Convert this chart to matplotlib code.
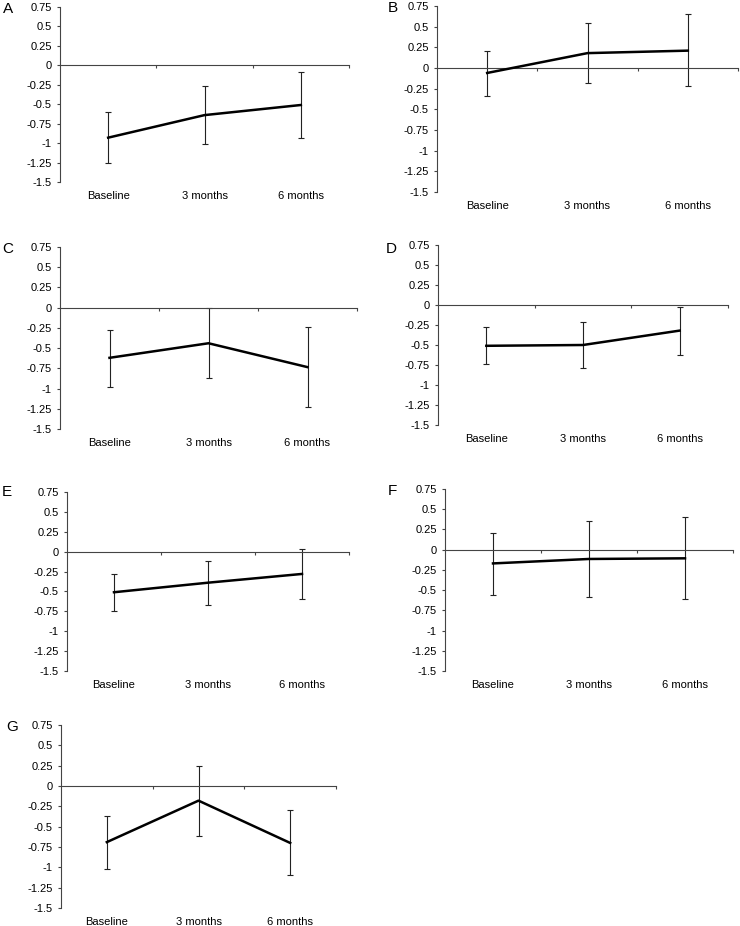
import matplotlib.pyplot as plt
import numpy as np

plt.rcParams['font.family'] = ['Liberation Sans', 'DejaVu Sans']

# 数据
timepoints = ['Baseline', '3 months', '6 months']
panel_names = ['A', 'B', 'C', 'D', 'E', 'F', 'G']

mean_A = [-0.93, -0.64, -0.51]
low_A = [-1.26, -1.01, -0.94]
high_A = [-0.60, -0.27, -0.08]

mean_B = [-0.06, 0.18, 0.21]
low_B = [-0.335, -0.185, -0.22]
high_B = [0.20, 0.55, 0.65]

mean_C = [-0.62, -0.44, -0.735]
low_C = [-0.98, -0.87, -1.23]
high_C = [-0.27, -0.01, -0.24]

mean_D = [-0.51, -0.50, -0.32]
low_D = [-0.74, -0.79, -0.62]
high_D = [-0.28, -0.21, -0.02]

mean_E = [-0.51, -0.39, -0.28]
low_E = [-0.74, -0.67, -0.60]
high_E = [-0.285, -0.115, 0.03]

mean_F = [-0.17, -0.115, -0.107]
low_F = [-0.56, -0.585, -0.61]
high_F = [0.21, 0.35, 0.40]

mean_G = [-0.69, -0.18, -0.70]
low_G = [-1.02, -0.615, -1.10]
high_G = [-0.365, 0.25, -0.30]

y_ticks = [0.75, 0.5, 0.25, 0, -0.25, -0.5, -0.75, -1, -1.25, -1.5]
y_tick_labels = ['0.75', '0.5', '0.25', '0', '-0.25', '-0.5', '-0.75', '-1', '-1.25', '-1.5']

panels = [
    (mean_A, low_A, high_A),
    (mean_B, low_B, high_B),
    (mean_C, low_C, high_C),
    (mean_D, low_D, high_D),
    (mean_E, low_E, high_E),
    (mean_F, low_F, high_F),
    (mean_G, low_G, high_G),
]

# 版面（像素）：left, top, right, bottom
W, H = 740, 926
boxes = [
    (60, 7, 349, 182),
    (437, 6, 738, 192),
    (60, 247, 357, 429),
    (438, 245, 728, 425),
    (67, 492, 349, 671),
    (445, 489, 733, 671),
    (61, 725, 336, 908),
]
letter_pos = [(8, 9), (393, 8), (8, 249), (391, 249), (7, 492), (392, 491), (12, 727)]

fig = plt.figure(figsize=(7.4, 9.26), dpi=100)

for (m, lo, hi), (l, t, r, b), name, (lx, ly) in zip(panels, boxes, panel_names, letter_pos):
    ax = fig.add_axes([l / W, 1 - b / H, (r - l) / W, (b - t) / H])
    x = np.arange(len(m)) + 0.5
    m = np.array(m)
    yerr = [m - np.array(lo), np.array(hi) - m]
    ax.errorbar(x, m, yerr=yerr, fmt='none', ecolor='#222222', elinewidth=0.8,
                capsize=2.2, capthick=0.8, zorder=2)
    ax.plot(x, m, color='black', lw=1.8, zorder=3)

    ax.set_xlim(0, 3)
    ax.set_ylim(-1.5, 0.75)
    ax.set_yticks(y_ticks)
    ax.set_yticklabels(y_tick_labels)
    ax.tick_params(axis='y', direction='out', length=2.5, width=0.8, labelsize=8, pad=3.5,
                   color='#444444')

    ax.spines['top'].set_visible(False)
    ax.spines['right'].set_visible(False)
    ax.spines['bottom'].set_position(('data', 0))
    ax.spines['left'].set_color('#444444')
    ax.spines['bottom'].set_color('#444444')
    ax.spines['left'].set_linewidth(0.8)
    ax.spines['bottom'].set_linewidth(0.8)
    ax.set_xticks([1, 2, 3])
    ax.set_xticklabels([])
    ax.tick_params(axis='x', direction='out', length=2.5, width=0.8, color='#444444')

    for xi, lab in zip(x, timepoints):
        ax.annotate(lab, xy=(xi, 0), xycoords=('data', 'axes fraction'),
                    xytext=(0, -10), textcoords='offset points',
                    ha='center', va='center', fontsize=8)

    fig.text(lx / W, 1 - ly / H, name, ha='center', va='center', fontsize=11)

plt.savefig('out.png', dpi=100)
